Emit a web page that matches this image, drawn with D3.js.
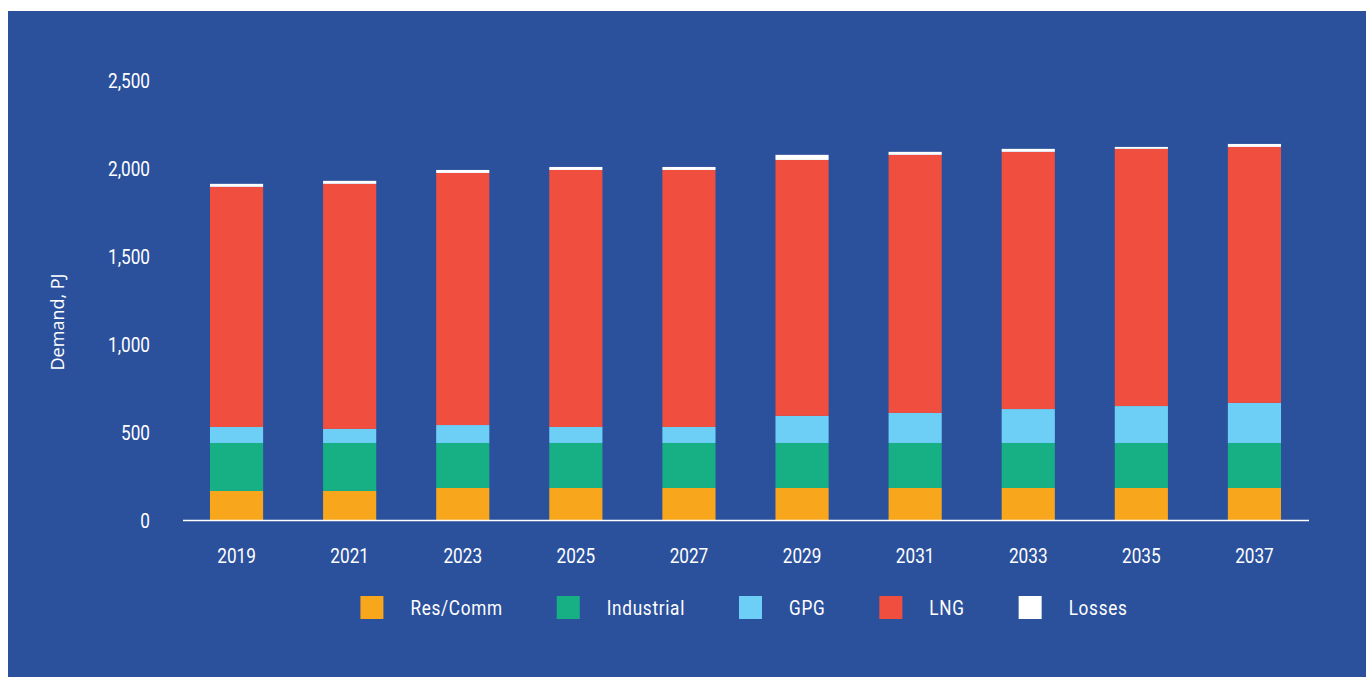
<!DOCTYPE html>
<html>
<head>
  <meta charset="utf-8">
  <title>Gas demand</title>
  <script src="https://d3js.org/d3.v7.min.js"></script>
  <style>
    body { margin: 0; background: #fff; }
    svg { display: block; }
    .tick-label, .legend-label {
      fill: #fff;
      font-family: Roboto, "Liberation Sans", sans-serif;
      font-size: 20px;
    }
    .legend-label { letter-spacing: 0.8px; }
    .y-title {
      fill: #fff;
      font-family: "Open Sans", "Liberation Sans", sans-serif;
      font-size: 18px;
    }
  </style>
</head>
<body>
  <svg></svg>
  <script>
    // data (PJ)
    var years = ["2019", "2021", "2023", "2025", "2027", "2029", "2031", "2033", "2035", "2037"];
    var resComm    = [168, 168, 185, 185, 185, 185, 185, 185, 185, 185];
    var industrial = [273, 273, 256, 256, 256, 256, 256, 256, 256, 256];
    var gpg        = [91, 80, 102, 91, 91, 154, 171, 193, 210, 228];
    var lng        = [1366, 1394, 1434, 1462, 1462, 1456, 1468, 1463, 1463, 1456];
    var losses     = [17, 17, 17, 17, 17, 29, 17, 17, 11, 17];
    var yTicks = [0, 500, 1000, 1500, 2000, 2500];

    var seriesNames = ["Res/Comm", "Industrial", "GPG", "LNG", "Losses"];
    var seriesColors = ["#f8a61c", "#17b085", "#6dcff6", "#f04f3f", "#ffffff"];
    var seriesValues = [resComm, industrial, gpg, lng, losses];

    var W = 1366, H = 677;
    var squeeze = 0.86; // the source font is a condensed face
    var svg = d3.select("svg").attr("width", W).attr("height", H);

    function at(px, py) {
      return "translate(" + [px, py] + ") scale(" + squeeze + ",1)";
    }

    // blue panel
    svg.append("rect")
      .attr("x", 8).attr("y", 11)
      .attr("width", W - 8).attr("height", H - 11)
      .attr("fill", "#2b519c");

    var rows = years.map(function (y, i) {
      var r = { year: y };
      seriesNames.forEach(function (s, j) { r[s] = seriesValues[j][i]; });
      return r;
    });
    var stacked = d3.stack().keys(seriesNames)(rows);

    var x = d3.scaleBand().domain(years).range([180, 1311]).paddingInner(0.53).paddingOuter(0.265);
    var y = d3.scaleLinear().domain([0, 2500]).range([520.5, 81]);

    // bars
    svg.append("g").selectAll("g")
      .data(stacked).enter().append("g")
      .attr("fill", function (d, i) { return seriesColors[i]; })
      .selectAll("rect")
      .data(function (d) { return d; }).enter().append("rect")
      .attr("x", function (d) { return x(d.data.year); })
      .attr("width", x.bandwidth())
      .attr("y", function (d) { return y(d[1]); })
      .attr("height", function (d) { return y(d[0]) - y(d[1]); });

    // baseline
    svg.append("line")
      .attr("x1", 183).attr("x2", 1309)
      .attr("y1", 520.5).attr("y2", 520.5)
      .attr("stroke", "#fff").attr("stroke-width", 1.5);

    // y tick labels
    svg.append("g").selectAll("text")
      .data(yTicks).enter().append("text")
      .attr("class", "tick-label")
      .attr("transform", function (d) { return at(150, y(d)); })
      .attr("dy", "0.36em")
      .attr("text-anchor", "end")
      .text(d3.format(","));

    // x tick labels
    svg.append("g").selectAll("text")
      .data(years).enter().append("text")
      .attr("class", "tick-label")
      .attr("transform", function (d) { return at(x(d) + x.bandwidth() / 2, 563); })
      .attr("text-anchor", "middle")
      .text(function (d) { return d; });

    // y title
    svg.append("text")
      .attr("class", "y-title")
      .attr("transform", "translate(64,322) rotate(-90)")
      .attr("text-anchor", "middle")
      .text("Demand, PJ");

    // legend, laid out as a flow and centred
    var legend = svg.append("g");
    var lx = 0;
    seriesNames.forEach(function (name, i) {
      var g = legend.append("g").attr("transform", "translate(" + lx + ",0)");
      g.append("rect").attr("x", 0).attr("y", 596).attr("width", 23).attr("height", 23)
        .attr("fill", seriesColors[i]);
      var t = g.append("text").attr("class", "legend-label")
        .attr("transform", at(50, 615)).text(name);
      lx += 50 + t.node().getComputedTextLength() * squeeze + 54;
    });
    var lw = lx - 54;
    legend.attr("transform", "translate(" + (744 - lw / 2) + ",0)");
  </script>
</body>
</html>
